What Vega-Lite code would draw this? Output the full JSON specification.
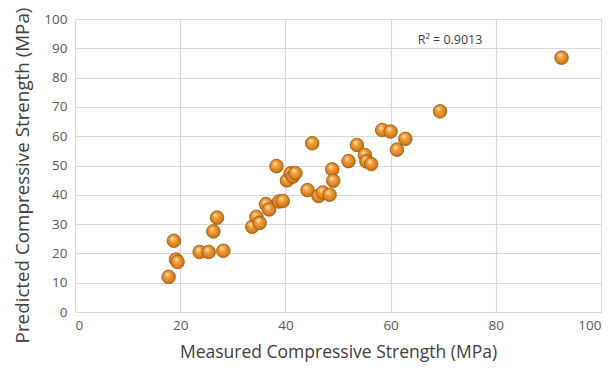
{
  "$schema": "https://vega.github.io/schema/vega-lite/v6.json",
  "autosize": "none",
  "width": 526,
  "height": 293,
  "padding": {"left": 75, "top": 19, "right": 15, "bottom": 57},
  "background": "white",
  "config": {
    "view": {"stroke": null},
    "font": "Open Sans",
    "axis": {
      "gridColor": "#d9d9d9",
      "gridWidth": 1.2,
      "domain": false,
      "ticks": false,
      "labelColor": "#595959",
      "labelFontSize": 13.5,
      "labelOverlap": false,
      "titleColor": "#404040",
      "titleFontWeight": "normal"
    }
  },
  "encoding": {
    "x": {
      "field": "measured", "type": "quantitative",
      "scale": {"domain": [0, 100], "nice": false},
      "axis": {"values": [0, 20, 40, 60, 80, 100], "title": "Measured Compressive Strength (MPa)", "titlePadding": 12, "labelPadding": 6, "titleFontSize": 17.5}
    },
    "y": {
      "field": "predicted", "type": "quantitative",
      "scale": {"domain": [0, 100], "nice": false},
      "axis": {"values": [0, 10, 20, 30, 40, 50, 60, 70, 80, 90, 100], "title": "Predicted Compressive Strength (MPa)", "titlePadding": 11, "labelPadding": 8, "titleFontSize": 18.8, "titleY": 156}
    }
  },
  "layer": [
    {
      "data": {"values": [
        {"measured": 17.8, "predicted": 12.0},
        {"measured": 18.8, "predicted": 24.3},
        {"measured": 19.2, "predicted": 17.9},
        {"measured": 19.5, "predicted": 17.1},
        {"measured": 23.7, "predicted": 20.5},
        {"measured": 25.4, "predicted": 20.5},
        {"measured": 28.2, "predicted": 20.9},
        {"measured": 26.3, "predicted": 27.5},
        {"measured": 27.0, "predicted": 32.2},
        {"measured": 33.7, "predicted": 29.1},
        {"measured": 34.5, "predicted": 32.5},
        {"measured": 35.1, "predicted": 30.4},
        {"measured": 36.3, "predicted": 36.8},
        {"measured": 36.9, "predicted": 35.0},
        {"measured": 38.3, "predicted": 49.8},
        {"measured": 38.8, "predicted": 37.7},
        {"measured": 39.5, "predicted": 37.9},
        {"measured": 40.3, "predicted": 44.9},
        {"measured": 41.0, "predicted": 47.3},
        {"measured": 41.4, "predicted": 46.2},
        {"measured": 41.9, "predicted": 47.4},
        {"measured": 44.2, "predicted": 41.6},
        {"measured": 45.1, "predicted": 57.6},
        {"measured": 46.3, "predicted": 39.6},
        {"measured": 47.1, "predicted": 40.8},
        {"measured": 48.4, "predicted": 40.0},
        {"measured": 48.9, "predicted": 48.7},
        {"measured": 49.1, "predicted": 44.8},
        {"measured": 52.0, "predicted": 51.5},
        {"measured": 53.6, "predicted": 57.0},
        {"measured": 55.1, "predicted": 53.6},
        {"measured": 55.4, "predicted": 51.4},
        {"measured": 56.3, "predicted": 50.5},
        {"measured": 58.4, "predicted": 62.1},
        {"measured": 60.0, "predicted": 61.6},
        {"measured": 61.2, "predicted": 55.4},
        {"measured": 62.8, "predicted": 59.1},
        {"measured": 69.4, "predicted": 68.5},
        {"measured": 92.5, "predicted": 86.8}
      ]},
      "mark": {
        "type": "point",
        "shape": "circle",
        "filled": true,
        "size": 185,
        "opacity": 1,
        "fill": {
          "gradient": "radial",
          "x1": 0.38, "y1": 0.3, "r1": 0.02,
          "x2": 0.5, "y2": 0.5, "r2": 0.55,
          "stops": [
            {"offset": 0, "color": "#fde2b0"},
            {"offset": 0.35, "color": "#f0a040"},
            {"offset": 0.8, "color": "#d57a1a"},
            {"offset": 1, "color": "#9a5208"}
          ]
        },
        "stroke": "#a35a10",
        "strokeWidth": 0.8
      }
    },
    {
      "data": {"values": [{"measured": 71.3, "predicted": 92.8, "label": "R² = 0.9013"}]},
      "mark": {"type": "text", "fontSize": 12.5, "color": "#404040", "align": "center", "baseline": "middle"},
      "encoding": {
        "text": {"field": "label"}
      }
    }
  ]
}
